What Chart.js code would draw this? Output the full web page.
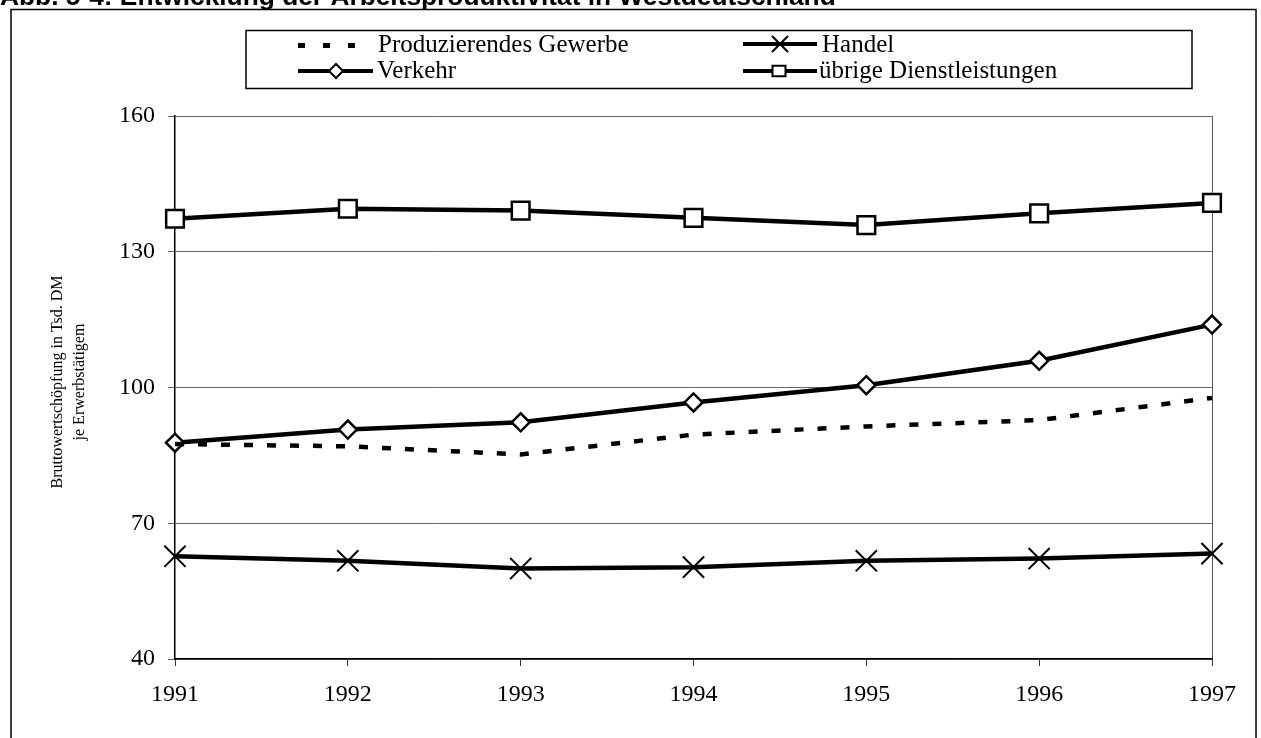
<!DOCTYPE html>
<html lang="de">
<head>
<meta charset="utf-8">
<title>Arbeitsproduktivität in Westdeutschland</title>
<script src="https://cdn.jsdelivr.net/npm/chart.js@4.4.1/dist/chart.umd.min.js"></script>
<style>
    html, body { margin: 0; padding: 0; background: #fff; }
    canvas { display: block; }
</style>
</head>
<body>
<canvas id="produktivitaetChart" width="1261" height="738"></canvas>
<script>
// Daten
const jahre = ['1991', '1992', '1993', '1994', '1995', '1996', '1997'];
const produzierendesGewerbe = [87.5, 87.0, 85.2, 89.6, 91.4, 92.8, 97.7];
const handel = [62.7, 61.7, 60.0, 60.3, 61.7, 62.2, 63.3];
const verkehr = [87.8, 90.7, 92.3, 96.7, 100.5, 105.9, 113.9];
const uebrigeDienstleistungen = [137.3, 139.5, 139.1, 137.5, 135.9, 138.5, 140.8];
const yTicks = [40, 70, 100, 130, 160];

const titelText = 'Abb. 5-4: Entwicklung der Arbeitsproduktivität in Westdeutschland';
const yTitel = ['Bruttowertschöpfung in Tsd. DM', 'je Erwerbstätigem'];

(() => {
    const el = document.getElementById('produktivitaetChart');
    if (!el || !window.Chart) return;

    const SERIF = '"Liberation Serif", "Times New Roman", serif';

    // kleine Hilfsfunktion fuer die Marker in der Legende
    function marker(ctx, style, x, y, r) {
        ctx.save();
        ctx.lineWidth = 2;
        ctx.strokeStyle = '#000';
        ctx.fillStyle = '#fff';
        ctx.beginPath();
        if (style === 'rectRot') {
            ctx.moveTo(x - r, y); ctx.lineTo(x, y - r); ctx.lineTo(x + r, y); ctx.lineTo(x, y + r);
            ctx.closePath(); ctx.fill(); ctx.stroke();
        } else if (style === 'rect') {
            ctx.rect(x - r, y - r * 0.8, 2 * r, 1.6 * r); ctx.fill(); ctx.stroke();
        } else if (style === 'crossRot') {
            ctx.moveTo(x - r, y - r); ctx.lineTo(x + r, y + r);
            ctx.moveTo(x + r, y - r); ctx.lineTo(x - r, y + r);
            ctx.stroke();
        }
        ctx.restore();
    }

    // Rahmen, abgeschnittener Titel, Legende und Achsentitel
    const deko = {
        id: 'deko',
        afterDraw(chart) {
            const ctx = chart.ctx;
            ctx.save();

            // Titel (oben abgeschnitten wie im Scan)
            ctx.fillStyle = '#000';
            ctx.font = 'bold 22px "Liberation Sans", Arial, sans-serif';
            const w = ctx.measureText(titelText).width;
            const fs = 22 * 836 / w;
            ctx.font = `bold ${fs.toFixed(2)}px "Liberation Sans", Arial, sans-serif`;
            ctx.textBaseline = 'alphabetic';
            ctx.textAlign = 'left';
            ctx.fillText(titelText, 0, 5);

            // Rahmen
            ctx.strokeStyle = '#000';
            ctx.lineWidth = 1.5;
            ctx.beginPath();
            ctx.moveTo(11, 740); ctx.lineTo(11, 9.5); ctx.lineTo(1256, 9.5); ctx.lineTo(1256, 740);
            ctx.stroke();

            // Legende
            ctx.lineWidth = 1.5;
            ctx.strokeRect(246, 30.5, 946, 58);
            const ds = chart.data.datasets;
            ctx.font = `25px ${SERIF}`;
            ctx.textBaseline = 'middle';

            // Produzierendes Gewerbe (gestrichelt)
            ctx.fillStyle = '#000';
            [298, 323, 348].forEach(x => ctx.fillRect(x, 43, 7, 5));
            ctx.fillText(ds[0].label, 378, 45);

            // Handel
            ctx.lineWidth = 4;
            ctx.beginPath(); ctx.moveTo(743, 44); ctx.lineTo(817, 44); ctx.stroke();
            marker(ctx, 'crossRot', 780, 44, 8);
            ctx.fillText(ds[1].label, 822, 45);

            // Verkehr
            ctx.lineWidth = 4;
            ctx.beginPath(); ctx.moveTo(298, 71); ctx.lineTo(373, 71); ctx.stroke();
            marker(ctx, 'rectRot', 336, 71, 7);
            ctx.fillText(ds[2].label, 377, 71);

            // übrige Dienstleistungen
            ctx.lineWidth = 4;
            ctx.beginPath(); ctx.moveTo(743, 71); ctx.lineTo(817, 71); ctx.stroke();
            marker(ctx, 'rect', 779, 71, 6.5);
            ctx.fillText(ds[3].label, 819, 71);

            // Achsentitel (gedreht, zweizeilig)
            ctx.font = `16px ${SERIF}`;
            ctx.textAlign = 'center';
            ctx.translate(0, 382);
            ctx.rotate(-Math.PI / 2);
            ctx.fillText(yTitel[0], 0, 58);
            ctx.fillText(yTitel[1], 0, 80);

            ctx.restore();
        }
    };

    new Chart(el.getContext('2d'), {
        type: 'line',
        data: {
            labels: jahre,
            datasets: [{
                label: 'Produzierendes Gewerbe',
                data: produzierendesGewerbe,
                borderColor: '#000',
                borderWidth: 4.5,
                borderDash: [9, 14],
                pointRadius: 0,
                tension: 0
            }, {
                label: 'Handel',
                data: handel,
                borderColor: '#000',
                borderWidth: 4.5,
                pointStyle: 'crossRot',
                pointRadius: 15,
                pointBorderWidth: 2,
                pointBorderColor: '#000',
                tension: 0
            }, {
                label: 'Verkehr',
                data: verkehr,
                borderColor: '#000',
                borderWidth: 4.5,
                pointStyle: 'rectRot',
                pointRadius: 9,
                pointBorderWidth: 2.5,
                pointBackgroundColor: '#fff',
                pointBorderColor: '#000',
                tension: 0
            }, {
                label: 'übrige Dienstleistungen',
                data: uebrigeDienstleistungen,
                borderColor: '#000',
                borderWidth: 4.5,
                pointStyle: 'rect',
                pointRadius: 12.5,
                pointBorderWidth: 2.5,
                pointBackgroundColor: '#fff',
                pointBorderColor: '#000',
                tension: 0
            }]
        },
        options: {
            responsive: false,
            animation: false,
            devicePixelRatio: 1,
            layout: {
                padding: { top: 116, right: 49, left: 0, bottom: 0 }
            },
            plugins: {
                legend: { display: false },
                title: { display: false },
                tooltip: { enabled: false }
            },
            scales: {
                x: {
                    type: 'category',
                    offset: false,
                    afterFit: (s) => { s.height = 79; },
                    border: { color: '#000', width: 1.5 },
                    grid: {
                        // nur rechter Plotrand
                        color: (c) => c.index === jahre.length - 1 ? '#555' : 'rgba(0,0,0,0)',
                        tickColor: '#333',
                        tickLength: 7,
                        lineWidth: 1
                    },
                    ticks: {
                        color: '#000',
                        padding: 14,
                        maxRotation: 0,
                        autoSkip: false,
                        font: { family: SERIF, size: 24 }
                    }
                },
                y: {
                    min: 40,
                    max: 160,
                    afterFit: (s) => { s.width = 175; },
                    afterBuildTicks: (s) => { s.ticks = yTicks.map(v => ({ value: v })); },
                    border: { color: '#000', width: 1.5 },
                    grid: {
                        color: '#666',
                        tickColor: '#666',
                        tickLength: 7,
                        lineWidth: 1
                    },
                    ticks: {
                        color: '#000',
                        padding: 13,
                        font: { family: SERIF, size: 24 }
                    }
                }
            }
        },
        plugins: [deko]
    });
})();
</script>
</body>
</html>
